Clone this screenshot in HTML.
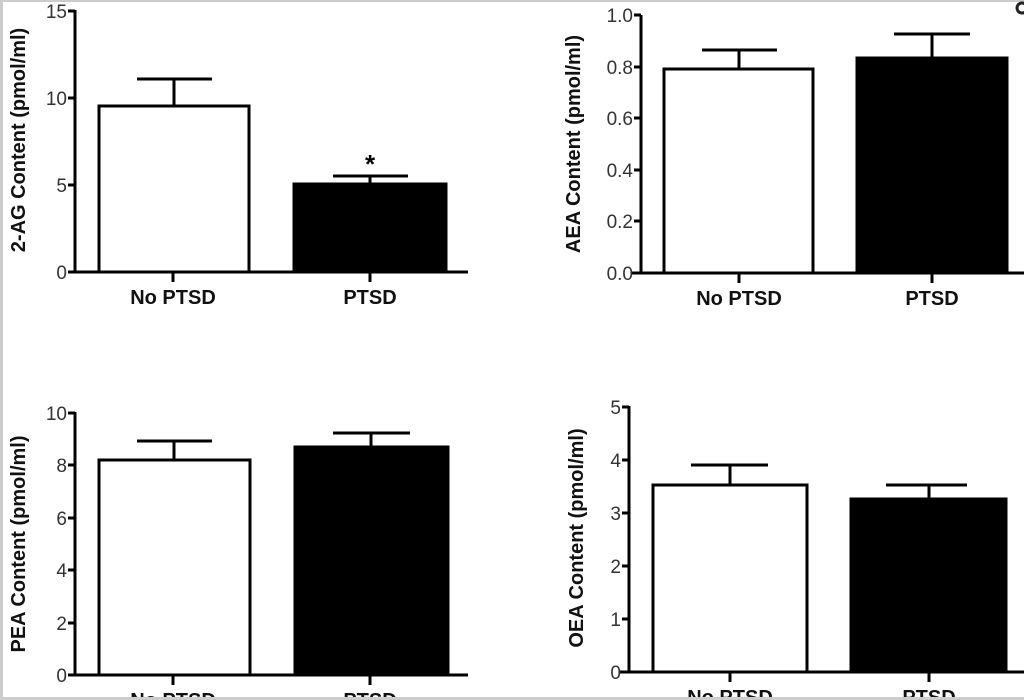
<!DOCTYPE html>
<html><head><meta charset="utf-8"><style>
html,body{margin:0;padding:0;background:#fff;}
svg{display:block;}
text{font-family:"Liberation Sans",Arial,sans-serif;}
.t{font-size:19px;fill:#333;text-anchor:end;}
.x{font-size:20px;font-weight:bold;fill:#111;text-anchor:middle;}
.y{font-size:20px;font-weight:bold;fill:#111;text-anchor:middle;}
</style></head><body>
<svg width="1024" height="700" viewBox="0 0 1024 700">
<rect x="0" y="0" width="1024" height="700" fill="#fff"/>
<rect x="0" y="0" width="1024" height="2" fill="#ccc"/>
<rect x="0" y="0" width="3" height="700" fill="#ccc"/>
<g stroke="#000" stroke-width="3" fill="none">
<path d="M75 10 V272 M68 272 H468"/>
<path d="M68 11 H75 M68 98 H75 M68 185 H75"/>
<path d="M173 272 V282 M370 272 V282"/>
<rect x="99" y="106" width="150" height="166" fill="#fff"/>
<path d="M174 106 V79 M137 79 H212"/>
<rect x="294" y="184" width="152" height="88" fill="#000"/>
<path d="M370 184 V176 M333 176 H408"/>
<path d="M641 15 V273 M632 273 H1024"/>
<path d="M634 15 H641 M634 67 H641 M634 118 H641 M634 170 H641 M634 221 H641"/>
<path d="M739 273 V283 M932 273 V283"/>
<rect x="664" y="69" width="149" height="204" fill="#fff"/>
<path d="M739 69 V50 M702 50 H777"/>
<rect x="857" y="58" width="150" height="215" fill="#000"/>
<path d="M932 58 V34 M894 34 H970"/>
<path d="M75 412 V675 M68 675 H468"/>
<path d="M68 413 H75 M68 465 H75 M68 518 H75 M68 570 H75 M68 623 H75"/>
<path d="M173 675 V685 M370 675 V685"/>
<rect x="99" y="460" width="151" height="215" fill="#fff"/>
<path d="M174 460 V441 M137 441 H212"/>
<rect x="295" y="447" width="153" height="228" fill="#000"/>
<path d="M371 447 V433 M333 433 H410"/>
<path d="M629 406 V672 M620 672 H1024"/>
<path d="M622 407 H629 M622 460 H629 M622 513 H629 M622 566 H629 M622 619 H629"/>
<path d="M730 672 V682 M929 672 V682"/>
<rect x="653" y="485" width="154" height="187" fill="#fff"/>
<path d="M730 485 V465 M691 465 H768"/>
<rect x="851" y="499" width="155" height="173" fill="#000"/>
<path d="M929 499 V485 M886 485 H967"/>
</g>
<text class="t" x="67" y="18">15</text>
<text class="t" x="67" y="105">10</text>
<text class="t" x="67" y="192">5</text>
<text class="t" x="67" y="279">0</text>
<text class="t" x="633" y="22">1.0</text>
<text class="t" x="633" y="74">0.8</text>
<text class="t" x="633" y="125">0.6</text>
<text class="t" x="633" y="177">0.4</text>
<text class="t" x="633" y="228">0.2</text>
<text class="t" x="633" y="280">0.0</text>
<text class="t" x="67" y="420">10</text>
<text class="t" x="67" y="472">8</text>
<text class="t" x="67" y="525">6</text>
<text class="t" x="67" y="577">4</text>
<text class="t" x="67" y="630">2</text>
<text class="t" x="67" y="682">0</text>
<text class="t" x="621" y="414">5</text>
<text class="t" x="621" y="467">4</text>
<text class="t" x="621" y="520">3</text>
<text class="t" x="621" y="573">2</text>
<text class="t" x="621" y="626">1</text>
<text class="t" x="621" y="679">0</text>
<text class="x" x="173" y="304">No PTSD</text>
<text class="x" x="370" y="304">PTSD</text>
<text class="x" x="739" y="305">No PTSD</text>
<text class="x" x="932" y="305">PTSD</text>
<text class="x" x="173" y="707">No PTSD</text>
<text class="x" x="370" y="707">PTSD</text>
<text class="x" x="730" y="704">No PTSD</text>
<text class="x" x="929" y="704">PTSD</text>
<text x="370" y="173" style="font-size:26px;font-weight:bold;text-anchor:middle;">*</text>
<text class="y" transform="translate(25,140) rotate(-90)">2-AG Content (pmol/ml)</text>
<text class="y" transform="translate(580,144) rotate(-90)">AEA Content (pmol/ml)</text>
<text class="y" transform="translate(25,544) rotate(-90)">PEA Content (pmol/ml)</text>
<text class="y" transform="translate(583,538) rotate(-90)">OEA Content (pmol/ml)</text>
<rect x="0" y="697" width="1024" height="3" fill="#ccc"/>
<circle cx="1022" cy="8" r="5" fill="none" stroke="#222" stroke-width="3"/>
</svg>
</body></html>
